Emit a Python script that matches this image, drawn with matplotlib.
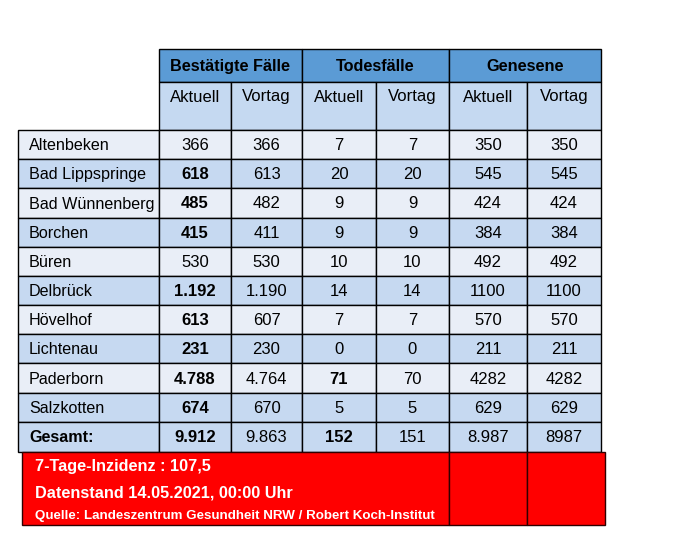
import matplotlib.pyplot as plt
from matplotlib.patches import Rectangle

plt.rcParams['font.family'] = ['Liberation Sans', 'DejaVu Sans']

gemeinden = ['Altenbeken', 'Bad Lippspringe', 'Bad Wünnenberg', 'Borchen', 'Büren',
             'Delbrück', 'Hövelhof', 'Lichtenau', 'Paderborn', 'Salzkotten', 'Gesamt:']
faelle_aktuell = ['366', '618', '485', '415', '530', '1.192', '613', '231', '4.788', '674', '9.912']
faelle_vortag = ['366', '613', '482', '411', '530', '1.190', '607', '230', '4.764', '670', '9.863']
tote_aktuell = ['7', '20', '9', '9', '10', '14', '7', '0', '71', '5', '152']
tote_vortag = ['7', '20', '9', '9', '10', '14', '7', '0', '70', '5', '151']
genesen_aktuell = ['350', '545', '424', '384', '492', '1100', '570', '211', '4282', '629', '8.987']
genesen_vortag = ['350', '545', '424', '384', '492', '1100', '570', '211', '4282', '629', '8987']
fett_faelle = [False, True, True, True, False, True, True, True, True, True, True]
fett_tote = [False] * 8 + [True, False, True]

gruppen = ['Bestätigte Fälle', 'Todesfälle', 'Genesene']
unterspalten = ['Aktuell', 'Vortag']
inzidenz = '7-Tage-Inzidenz : 107,5'
datenstand = 'Datenstand 14.05.2021, 00:00 Uhr'
quelle = 'Quelle: Landeszentrum Gesundheit NRW / Robert Koch-Institut'

# layout in pixels
xs = [18, 159, 231, 302, 376, 449, 527, 601]
ys = [130, 159, 188, 218, 247, 276, 305, 334, 363, 393, 422, 452]
h1 = (49, 82)
h2 = (82, 130)

c_head = '#5B9BD5'
c_sub = '#C5D9F1'
c_hell = '#E9EEF7'
c_dunkel = '#C6D9F1'

fig = plt.figure(figsize=(6.76, 5.35), dpi=100)
ax = fig.add_axes([0, 0, 1, 1])
ax.set_xlim(0, 676)
ax.set_ylim(535, 0)
ax.axis('off')

def zelle(x0, x1, y0, y1, farbe, kante='black', lw=1.0):
    ax.add_patch(Rectangle((x0, y0), x1 - x0, y1 - y0, facecolor=farbe,
                           edgecolor=kante, linewidth=lw))

# header row 1
for g, name in enumerate(gruppen):
    x0, x1 = xs[1 + 2 * g], xs[3 + 2 * g]
    zelle(x0, x1, h1[0], h1[1], c_head)
    ax.text((x0 + x1) / 2, (h1[0] + h1[1]) / 2 + 1, name, ha='center', va='center',
            fontsize=11.7, fontweight='bold', color='black')

# header row 2
for j in range(6):
    x0, x1 = xs[1 + j], xs[2 + j]
    zelle(x0, x1, h2[0], h2[1], c_sub)
    ax.text((x0 + x1) / 2, h2[0] + 15, unterspalten[j % 2], ha='center', va='center',
            fontsize=12, color='black')

spalten = [faelle_aktuell, faelle_vortag, tote_aktuell, tote_vortag,
           genesen_aktuell, genesen_vortag]
fett = [fett_faelle, None, fett_tote, None, None, None]

for i, name in enumerate(gemeinden):
    y0, y1 = ys[i], ys[i + 1]
    farbe = c_hell if i % 2 == 0 else c_dunkel
    if i == len(gemeinden) - 1:
        farbe = c_dunkel
    yc = (y0 + y1) / 2 + 1
    zelle(xs[0], xs[1], y0, y1, farbe)
    ax.text(xs[0] + 11, yc, name, ha='left', va='center', fontsize=11.6,
            fontweight='bold' if i == len(gemeinden) - 1 else 'normal')
    for j, werte in enumerate(spalten):
        zelle(xs[1 + j], xs[2 + j], y0, y1, farbe)
        b = fett[j][i] if fett[j] is not None else False
        ax.text((xs[1 + j] + xs[2 + j]) / 2, yc, werte[i], ha='center', va='center',
                fontsize=12, fontweight='bold' if b else 'normal')

# red footer
rx0, rx1, ry0, ry1 = 22, 605, 452, 525
zelle(rx0, xs[5], ry0, ry1, '#FF0000', kante='#300000')
zelle(xs[5], xs[6], ry0, ry1, '#FF0000', kante='#300000')
zelle(xs[6], rx1, ry0, ry1, '#FF0000', kante='#300000')
ax.text(35, 467, inzidenz, ha='left', va='center', fontsize=11.7, fontweight='bold',
        color='white')
ax.text(35, 493, datenstand, ha='left', va='center', fontsize=11.7, fontweight='bold',
        color='white')
ax.text(35, 516, quelle, ha='left', va='center', fontsize=9.6, fontweight='bold',
        color='white')

fig.savefig('out.png', dpi=100)
